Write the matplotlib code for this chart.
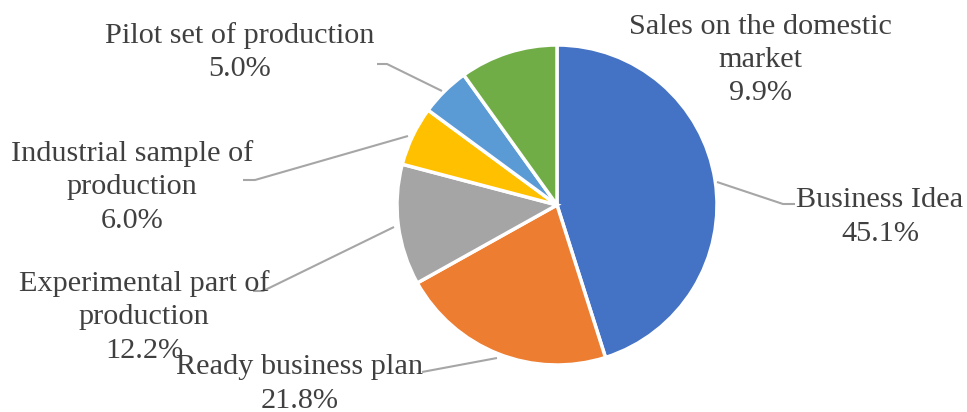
import matplotlib
matplotlib.use("Agg")
import matplotlib.pyplot as plt

# Data
categories = ["Business Idea", "Ready business plan", "Experimental part of\nproduction",
              "Industrial sample of\nproduction", "Pilot set of production",
              "Sales on the domestic\nmarket"]
values = [45.1, 21.8, 12.2, 6.0, 5.0, 9.9]
colors = ["#4472C4", "#ED7D31", "#A5A5A5", "#FFC000", "#5B9BD5", "#70AD47"]

W, H = 967, 412
fig = plt.figure(figsize=(W / 100, H / 100), dpi=100)
ax = fig.add_axes([0, 0, 1, 1])

cx, cy, r = 557, H - 205, 160
ax.pie(values, colors=colors, startangle=90, counterclock=False,
       center=(cx, cy), radius=r, frame=True,
       wedgeprops=dict(edgecolor="white", linewidth=2.5))
ax.set_xlim(0, W)
ax.set_ylim(0, H)
ax.set_aspect("equal")
ax.axis("off")

# label placement (pixel coords, top-left origin)
label_pos = [(880, 217), (300, 384), (144, 317), (132, 187), (240, 52), (760, 60)]
leaders = [
    [(717, 182), (783, 204), (795, 204)],
    [(497, 358), (422, 372)],
    [(394, 227), (263, 291), (253, 291)],
    [(408, 136), (255, 180), (243, 180)],
    [(442, 91), (387, 64), (377, 64)],
    None,
]

for cat, v, (px, py), ld in zip(categories, values, label_pos, leaders):
    if ld:
        xs = [p[0] for p in ld]
        ys = [H - p[1] for p in ld]
        ax.plot(xs, ys, color="#A6A6A6", lw=1.5, solid_capstyle="butt", zorder=1)
    ax.text(px, H - py, f"{cat}\n{v:.1f}%", ha="center", va="center",
            multialignment="center", fontsize=21.8, family="Liberation Serif",
            color="#404040", linespacing=1.36, zorder=5)

fig.savefig("out.png", dpi=100)
